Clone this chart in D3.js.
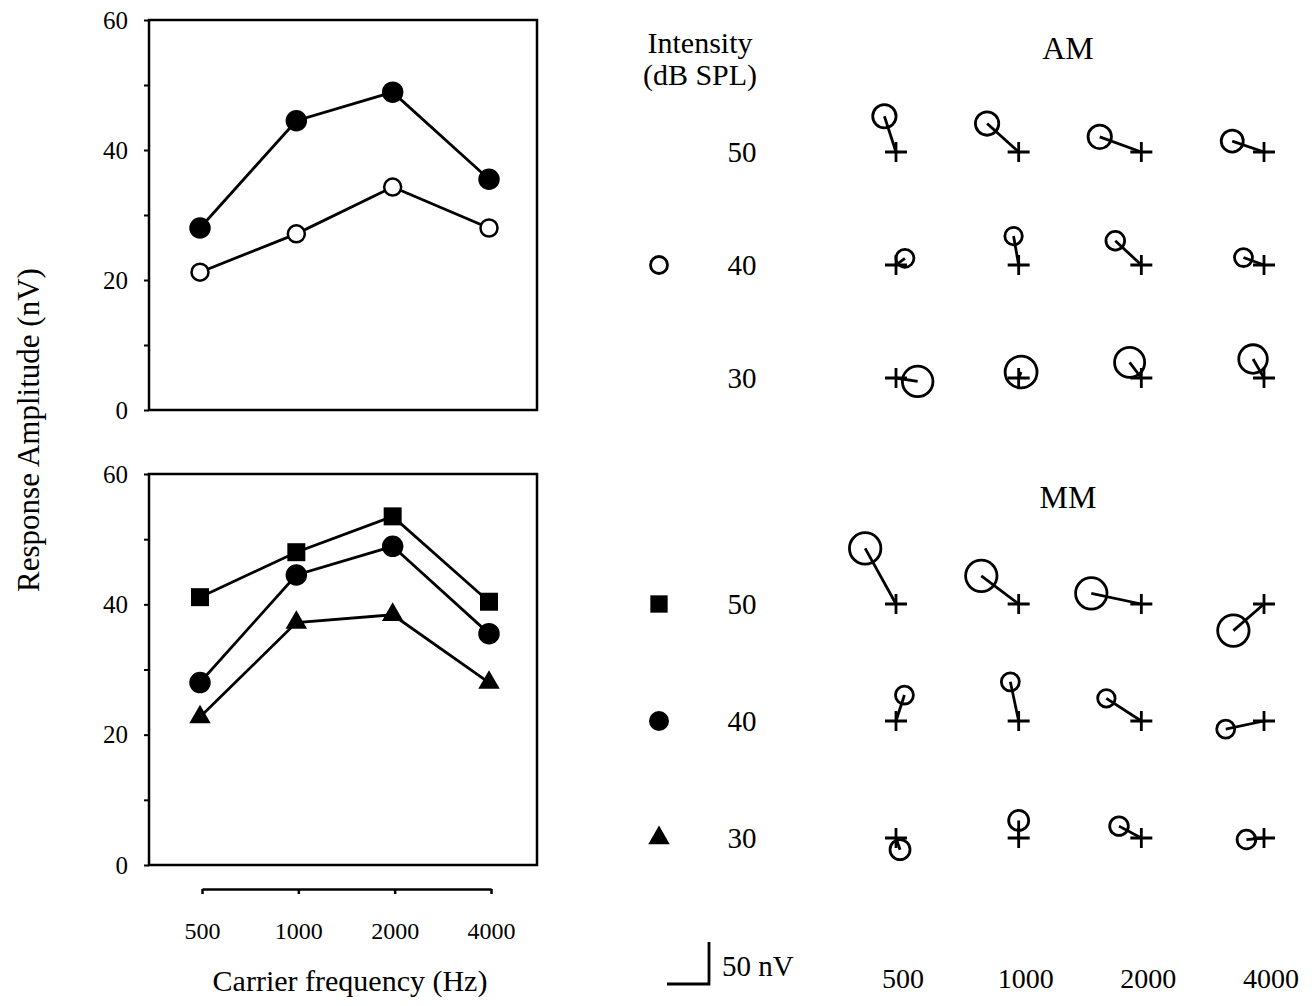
<!DOCTYPE html>
<html>
<head>
<meta charset="utf-8">
<script src="https://cdn.jsdelivr.net/npm/d3@7"></script>
<style>
  body { margin: 0; background: #fff; }
  svg text { font-family: "Liberation Serif", "Times New Roman", serif; fill: #000; }
</style>
</head>
<body>
<svg id="chart" width="1312" height="1006"></svg>
<script>
'use strict';

// carrier frequencies (Hz)
var freqs = ['500', '1000', '2000', '4000'];
var intensities = [50, 40, 30];

// response amplitude (nV), left panels
var am40 = [21.2, 27.1, 34.3, 28.0];   // open circles, top
var mm40 = [28.0, 44.5, 48.9, 35.5];   // filled circles, both panels
var mm50 = [41.1, 48.0, 53.5, 40.4];   // squares
var mm30 = [22.7, 37.2, 38.4, 28.0];   // triangles

// vector plots: amplitude (nV), phase (deg, counter-clockwise from right), noise radius (nV)
// rows = 50, 40, 30 dB SPL ; columns = 500..4000 Hz
var amVecAmp   = [[44.7, 50.6, 52.7, 40.0], [13.3, 35.0, 42.4, 26.0], [26.1, 7.7, 23.2, 26.1]];
var amVecPhase = [[108, 138, 160, 161], [37, 100, 137, 160], [-9, 68, 127, 120]];
var amNoise    = [[13.9, 13.9, 13.9, 13.1], [10.7, 10.4, 11.1, 10.7], [18.2, 19.0, 17.9, 17.0]];

var mmVecAmp   = [[75.7, 55.7, 60.9, 48.3], [32.5, 47.7, 49.6, 46.6], [14.7, 20.9, 30.1, 21.0]];
var mmVecPhase = [[119, 143, 168, 221], [72, 102, 147, 192], [289, 90, 152, 185]];
var mmNoise    = [[18.7, 18.7, 18.7, 18.7], [10.7, 10.7, 10.4, 10.7], [11.9, 11.9, 11.1, 11.1]];

var yTicks = [0, 10, 20, 30, 40, 50, 60];

var svg = d3.select('#chart');

/* ---------- left panels ---------- */

var x = d3.scalePoint().domain(freqs).range([200, 489]);
var yTop = d3.scaleLinear().domain([0, 60]).range([410, 20]);
var yBot = d3.scaleLinear().domain([0, 60]).range([865, 474]);

function panel(y) {
  var g = svg.append('g');
  g.append('rect')
    .attr('x', 149).attr('y', y(60))
    .attr('width', 537 - 149).attr('height', y(0) - y(60))
    .attr('fill', 'none').attr('stroke', '#000').attr('stroke-width', 2.5);

  var ax = g.append('g')
    .attr('transform', 'translate(149,0)')
    .call(d3.axisLeft(y).tickValues(yTicks).tickSize(5).tickPadding(16)
      .tickFormat(function(d){ return d % 20 === 0 ? d : ''; }));
  ax.select('.domain').remove();
  ax.selectAll('line').attr('stroke-width', 2);
  ax.selectAll('text').attr('font-size', 25).attr('font-family', '"Liberation Serif", serif');
  return g;
}

function series(g, y, vals, marker) {
  var pts = vals.map(function(v, i){ return {f: freqs[i], v: v}; });
  var line = d3.line()
    .x(function(d){ return x(d.f); })
    .y(function(d){ return y(d.v); });
  g.append('path').datum(pts)
    .attr('d', line).attr('fill', 'none')
    .attr('stroke', '#000').attr('stroke-width', 2.8);

  var m = g.selectAll(null).data(pts).enter();
  if (marker === 'open' || marker === 'filled') {
    m.append('circle')
      .attr('cx', function(d){ return x(d.f); })
      .attr('cy', function(d){ return y(d.v); })
      .attr('r', marker === 'open' ? 8.5 : 9.5)
      .attr('fill', marker === 'open' ? '#fff' : '#000')
      .attr('stroke', '#000').attr('stroke-width', 2.5);
  } else {
    var sym = marker === 'square' ? d3.symbol(d3.symbolSquare, 324) : d3.symbol(d3.symbolTriangle, 200);
    m.append('path')
      .attr('d', sym)
      .attr('transform', function(d){ return 'translate(' + x(d.f) + ',' + y(d.v) + ')'; })
      .attr('fill', '#000');
  }
}

var topPanel = panel(yTop);
series(topPanel, yTop, am40, 'open');
series(topPanel, yTop, mm40, 'filled');

var botPanel = panel(yBot);
series(botPanel, yBot, mm50, 'square');
series(botPanel, yBot, mm40, 'filled');
series(botPanel, yBot, mm30, 'triangle');

// separate frequency axis under the lower panel
var xa = svg.append('g')
  .attr('transform', 'translate(2,889)')
  .call(d3.axisBottom(x).tickSize(5).tickSizeOuter(0).tickPadding(28));
xa.select('.domain').attr('stroke-width', 2.5);
xa.selectAll('line').attr('stroke-width', 2.5);
xa.selectAll('text').attr('font-size', 24).attr('font-family', '"Liberation Serif", serif');

svg.append('text')
  .attr('x', 350).attr('y', 980).attr('dy', '0.35em')
  .attr('text-anchor', 'middle').attr('font-size', 30)
  .text('Carrier frequency (Hz)');

svg.append('text')
  .attr('transform', 'translate(28,430) rotate(-90)')
  .attr('dy', '0.35em')
  .attr('text-anchor', 'middle').attr('font-size', 31)
  .text('Response Amplitude (nV)');

/* ---------- right: vector plots ---------- */

var col = d3.scalePoint().domain(freqs).range([896, 1264]);
var rowAM = d3.scalePoint().domain(intensities).range([152, 378]);
var rowMM = d3.scalePoint().domain(intensities).range([604, 838]);
var nv = d3.scaleLinear().domain([0, 50]).range([0, 42]);

function vectors(row, amp, phase, noise) {
  var cells = [];
  intensities.forEach(function(db, r){
    freqs.forEach(function(f, c){
      cells.push({db: db, f: f, a: amp[r][c], p: phase[r][c], n: noise[r][c]});
    });
  });
  var g = svg.append('g').selectAll('g').data(cells).enter().append('g')
    .attr('transform', function(d){ return 'translate(' + col(d.f) + ',' + row(d.db) + ')'; });

  function ex(d){ return nv(d.a) * Math.cos(d.p * Math.PI / 180); }
  function ey(d){ return -nv(d.a) * Math.sin(d.p * Math.PI / 180); }

  g.append('path')
    .attr('d', 'M-11,0H11M0,-10V10')
    .attr('stroke', '#000').attr('stroke-width', 2.8);
  g.append('line')
    .attr('x1', 0).attr('y1', 0)
    .attr('x2', ex).attr('y2', ey)
    .attr('stroke', '#000').attr('stroke-width', 2.8);
  g.append('circle')
    .attr('cx', ex).attr('cy', ey)
    .attr('r', function(d){ return nv(d.n); })
    .attr('fill', 'none').attr('stroke', '#000').attr('stroke-width', 2.8);
}

vectors(rowAM, amVecAmp, amVecPhase, amNoise);
vectors(rowMM, mmVecAmp, mmVecPhase, mmNoise);

// headings
function label(tx, ty, s, size) {
  svg.append('text').attr('x', tx).attr('y', ty).attr('dy', '0.35em')
    .attr('text-anchor', 'middle').attr('font-size', size).text(s);
}
label(700, 42, 'Intensity', 30);
label(700, 74, '(dB SPL)', 30);
label(1068, 48, 'AM', 32);
label(1068, 497, 'MM', 32);

// intensity labels
intensities.forEach(function(db){
  label(742, rowAM(db), db, 29);
  label(742, rowMM(db), db, 29);
});

// legend markers
svg.append('circle').attr('cx', 659).attr('cy', rowAM(40)).attr('r', 8.5)
  .attr('fill', '#fff').attr('stroke', '#000').attr('stroke-width', 2.8);
svg.append('path').attr('d', d3.symbol(d3.symbolSquare, 300))
  .attr('transform', 'translate(659,' + rowMM(50) + ')');
svg.append('circle').attr('cx', 659).attr('cy', rowMM(40)).attr('r', 10);
svg.append('path').attr('d', d3.symbol(d3.symbolTriangle, 200))
  .attr('transform', 'translate(659,' + rowMM(30) + ')');

// column labels
freqs.forEach(function(f){
  label(col(f) + 7, 978, f, 28);
});

// scale bar: 50 nV
var sb = nv(50);
svg.append('path')
  .attr('d', 'M' + (709 - sb) + ',984H709V' + (984 - sb))
  .attr('fill', 'none').attr('stroke', '#000').attr('stroke-width', 2.8);
svg.append('text').attr('x', 722).attr('y', 966).attr('dy', '0.35em')
  .attr('font-size', 29).text('50 nV');
</script>
</body>
</html>
